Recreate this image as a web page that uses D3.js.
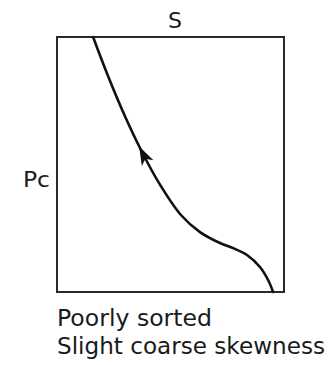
<!DOCTYPE html>
<html>
<head>
<meta charset="utf-8">
<script src="https://cdn.jsdelivr.net/npm/d3@7"></script>
<style>
  html, body { margin: 0; padding: 0; background: #fff; }
  svg { display: block; }
  text { font-family: "DejaVu Sans", "Liberation Sans", sans-serif; fill: #1a1a1a; }
</style>
</head>
<body>
<svg id="chart" width="331" height="365"></svg>
<script>
// Capillary pressure curve: saturation S (%) versus capillary pressure Pc (relative)
const saturation = [15.9, 22.3, 29.7, 37.0, 44.9, 54.6, 63.0, 71.8, 78.4, 83.7, 89.4, 93.0, 95.2];
const pressure   = [100, 85.1, 69.4, 55.7, 42.8, 30.2, 23.5, 19.2, 16.9, 14.5, 9.8, 4.7, 0];

const xLabel = "S";
const yLabel = "Pc";
const captionLines = ["Poorly sorted", "Slight coarse skewness"];

const svg = d3.select("#chart");
const box = { left: 57, top: 37, right: 284, bottom: 292 };

const x = d3.scaleLinear().domain([0, 100]).range([box.left, box.right]);
const y = d3.scaleLinear().domain([0, 100]).range([box.bottom, box.top]);

// frame
svg.append("rect")
  .attr("x", x(0)).attr("y", y(100))
  .attr("width", x(100) - x(0)).attr("height", y(0) - y(100))
  .attr("fill", "none").attr("stroke", "#2a2a2a").attr("stroke-width", 2);

const pts = saturation.map((s, i) => [s, pressure[i]]);
const line = d3.line()
  .x(d => x(d[0])).y(d => y(d[1]))
  .curve(d3.curveCatmullRom.alpha(0.5));

const path = svg.append("path")
  .datum(pts)
  .attr("d", line)
  .attr("fill", "none")
  .attr("stroke", "#111")
  .attr("stroke-width", 2.6)
  .attr("stroke-linecap", "round");

// arrowhead on the curve pointing toward decreasing saturation
const node = path.node();
const total = node.getTotalLength();
let tipLen = 0, best = Infinity;
for (let l = 0; l <= total; l += 0.5) {
  const p = node.getPointAtLength(l);
  const dd = Math.abs(p.y - 146);
  if (dd < best) { best = dd; tipLen = l; }
}
const tip = node.getPointAtLength(tipLen);
const back = node.getPointAtLength(tipLen + 6);
const ang = Math.atan2(tip.y - back.y, tip.x - back.x) * 180 / Math.PI;
svg.append("path")
  .attr("d", "M0,0 L-19,-6.5 L-14,0 L-19,6.5 Z")
  .attr("transform", `translate(${tip.x},${tip.y}) rotate(${ang})`)
  .attr("fill", "#111");

// axis labels
svg.append("text")
  .attr("x", 175).attr("y", 28)
  .attr("text-anchor", "middle")
  .attr("font-size", 22)
  .text(xLabel);

svg.append("text")
  .attr("x", 23).attr("y", 187)
  .attr("font-size", 22)
  .attr("textLength", 27)
  .attr("lengthAdjust", "spacingAndGlyphs")
  .text(yLabel);

// caption
const capWidths = [155, 268];
captionLines.forEach((t, i) => {
  svg.append("text")
    .attr("x", 57).attr("y", 326 + i * 28)
    .attr("font-size", 23)
    .attr("textLength", capWidths[i])
    .attr("lengthAdjust", "spacingAndGlyphs")
    .text(t);
});
</script>
</body>
</html>
